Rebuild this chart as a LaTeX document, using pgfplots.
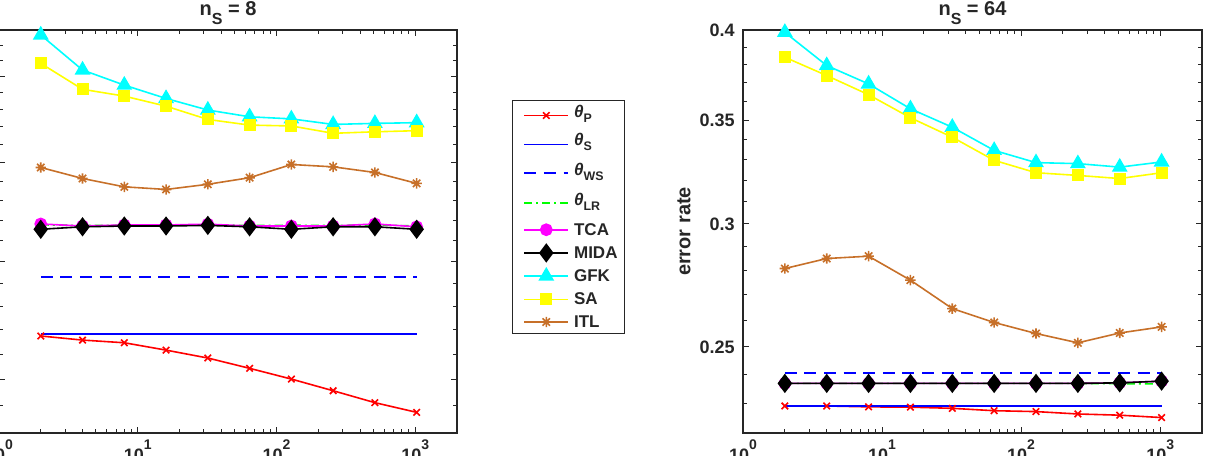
\documentclass[border=0pt]{standalone}
\usepackage{pgfplots}
\pgfplotsset{compat=1.18}
\usepackage{pgfplotstable}
\usepackage{fontspec}
\setmainfont{Liberation Sans}
\usetikzlibrary{plotmarks}

\definecolor{itlbrown}{rgb}{0.78,0.44,0.16}
\definecolor{axgray}{rgb}{0.15,0.15,0.15}
\definecolor{pcyan}{rgb}{0,1,1}
\definecolor{pmagenta}{rgb}{1,0,1}
\definecolor{pyellow}{rgb}{1,1,0}

% eight-armed asterisk (plus and cross overlaid)
\pgfdeclareplotmark{ast8}{%
  \pgfpathmoveto{\pgfqpoint{0pt}{\pgfplotmarksize}}%
  \pgfpathlineto{\pgfqpoint{0pt}{-\pgfplotmarksize}}%
  \pgfpathmoveto{\pgfqpoint{\pgfplotmarksize}{0pt}}%
  \pgfpathlineto{\pgfqpoint{-\pgfplotmarksize}{0pt}}%
  \pgfpathmoveto{\pgfqpoint{.707\pgfplotmarksize}{.707\pgfplotmarksize}}%
  \pgfpathlineto{\pgfqpoint{-.707\pgfplotmarksize}{-.707\pgfplotmarksize}}%
  \pgfpathmoveto{\pgfqpoint{-.707\pgfplotmarksize}{.707\pgfplotmarksize}}%
  \pgfpathlineto{\pgfqpoint{.707\pgfplotmarksize}{-.707\pgfplotmarksize}}%
  \pgfusepathqstroke}

\newcommand{\lsub}[1]{\raisebox{-2.5pt}{\fontsize{6.2}{6.2}\selectfont #1}}
\newcommand{\tsub}[1]{\raisebox{-4.8pt}{\fontsize{8}{8}\selectfont #1}}
\newcommand{\tsup}[1]{\raisebox{6pt}{\fontsize{7}{7}\selectfont #1}}
\newcommand{\rt}{\rule[-6.5pt]{0pt}{15pt}}
\newcommand{\rtb}{\rule[-6.5pt]{0pt}{13.8pt}}
\newcommand{\rn}{\rule[-3.1pt]{0pt}{11.6pt}}
\newcommand{\rl}{\rule[-2.6pt]{0pt}{11.1pt}}
\newcommand{\tkfont}{\fontsize{9}{10}\selectfont\bfseries}
\newcommand{\lgfont}{\fontsize{8.5}{10}\selectfont\bfseries}
\newcommand{\ttfont}{\fontsize{10}{12}\selectfont\bfseries}

% error rates, n_S = 8
\pgfplotstableread{
n    P      S      WS     LR     TCA    MIDA   GFK    SA     ITL
2    0.2674 0.2681 0.2930 0.3178 0.3182 0.3156 0.4267 0.4083 0.3474
4    0.2657 0.2681 0.2930 0.3174 0.3172 0.3168 0.4041 0.3922 0.3415
8    0.2646 0.2681 0.2930 0.3176 0.3177 0.3172 0.3948 0.3881 0.3371
16   0.2616 0.2681 0.2930 0.3176 0.3177 0.3172 0.3867 0.3821 0.3357
32   0.2584 0.2681 0.2930 0.3178 0.3181 0.3175 0.3798 0.3743 0.3384
64   0.2543 0.2681 0.2930 0.3174 0.3172 0.3168 0.3758 0.3710 0.3419
128  0.2501 0.2681 0.2930 0.3176 0.3172 0.3156 0.3746 0.3705 0.3490
256  0.2456 0.2681 0.2930 0.3174 0.3172 0.3168 0.3714 0.3663 0.3477
512  0.2411 0.2681 0.2930 0.3178 0.3182 0.3168 0.3720 0.3672 0.3447
1024 0.2375 0.2681 0.2930 0.3172 0.3168 0.3156 0.3724 0.3678 0.3389
}\tabA

% error rates, n_S = 64
\pgfplotstableread{
n    P      S      WS     LR     TCA    MIDA   GFK    SA     ITL
2    0.2290 0.2290 0.2405 0.2368 0.2368 0.2368 0.3987 0.3842 0.2808
4    0.2290 0.2290 0.2405 0.2368 0.2368 0.2368 0.3795 0.3739 0.2850
8    0.2287 0.2290 0.2405 0.2368 0.2368 0.2368 0.3693 0.3634 0.2860
16   0.2286 0.2290 0.2405 0.2368 0.2368 0.2368 0.3559 0.3512 0.2760
32   0.2282 0.2290 0.2405 0.2368 0.2368 0.2368 0.3463 0.3412 0.2646
64   0.2274 0.2290 0.2405 0.2368 0.2368 0.2368 0.3346 0.3297 0.2592
128  0.2271 0.2290 0.2405 0.2368 0.2368 0.2368 0.3286 0.3237 0.2550
256  0.2263 0.2290 0.2405 0.2368 0.2368 0.2368 0.3281 0.3224 0.2515
512  0.2259 0.2290 0.2405 0.2367 0.2370 0.2370 0.3264 0.3209 0.2552
1024 0.2251 0.2290 0.2405 0.2366 0.2376 0.2376 0.3289 0.3237 0.2575
}\tabB

\tikzset{
  sP/.style={color=red, line width=0.8pt, mark=x, mark size=2.3pt},
  sS/.style={color=blue, line width=0.8pt},
  sWS/.style={color=blue, line width=0.8pt, dash pattern=on 6pt off 3.8pt},
  sLR/.style={color=green, line width=0.8pt, dash pattern=on 4pt off 2pt on 1pt off 2pt},
  sTCA/.style={color=pmagenta, line width=0.8pt, mark=*, mark size=2.8pt, mark options={fill=pmagenta}},
  sMIDA/.style={color=black, line width=0.8pt, mark=diamond*, mark size=4.2pt, mark options={fill=black}},
  sGFK/.style={color=pcyan, line width=0.8pt, mark=triangle*, mark size=3.8pt, mark options={fill=pcyan}},
  sSA/.style={color=pyellow, line width=0.8pt, mark=square*, mark size=2.6pt, mark options={fill=pyellow}},
  sITL/.style={color=itlbrown, line width=0.8pt, mark=ast8, mark size=2.6pt},
}

\begin{document}
\begin{tikzpicture}
\begin{axis}[scale only axis, width=229pt, height=201.5pt,
  at={(-0.5pt,-216.5pt)}, anchor=south west,
  xmode=log, ymode=log, xmin=1, xmax=2000, ymin=0.23, ymax=0.43,
  xtick={1,10,100,1000},
  xticklabels={10\tsup{0},10\tsup{1},10\tsup{2},10\tsup{3}},
  minor xtick={2,3,4,5,6,7,8,9,20,30,40,50,60,70,80,90,200,300,400,500,600,700,800,900},
  ytick={0.25,0.3,0.35,0.4},
  yticklabels={0.25,0.3,0.35,0.4},
  minor ytick={0.24,0.26,0.27,0.28,0.29,0.31,0.32,0.33,0.34,0.36,0.37,0.38,0.39,0.41,0.42},
  tick align=inside, major tick length=3pt, minor tick length=1.8pt,
  axis line style={axgray, line width=0.7pt},
  every tick/.style={axgray, line width=0.5pt},
  tick label style={font=\tkfont, text=axgray},
  xticklabel style={inner sep=0pt, yshift=-3pt},
  yticklabel style={inner sep=0pt, xshift=-4pt},
  ylabel={error rate},
  ylabel style={at={(axis description cs:-0.1285,0.5)}, anchor=center,
    font=\fontsize{10}{12}\selectfont\bfseries, text=axgray},
  legend image code/.code={%
    \path (0pt,0pt);
    \draw[mark repeat=2,mark phase=2,#1] plot coordinates {(2pt,0pt) (13pt,0pt) (24pt,0pt)};},
  legend style={at={(1.1201,0.8263)}, anchor=north west, draw=axgray, line width=0.5pt,
    font=\lgfont, text=axgray,
    inner xsep=3.5pt, inner ysep=0pt, row sep=0pt,
    nodes={inner sep=0pt, text depth=}},
  legend cell align=left]
\addplot[sP] table[x=n,y=P] {\tabA};
\addlegendentry{\rt\hspace{2.5pt}{\itshape θ}\lsub{P}}
\addplot[sS] table[x=n,y=S] {\tabA};
\addlegendentry{\rtb\hspace{2.5pt}{\itshape θ}\lsub{S}}
\addplot[sWS] table[x=n,y=WS] {\tabA};
\addlegendentry{\rt\hspace{2.5pt}{\itshape θ}\lsub{WS}}
\addplot[sLR] table[x=n,y=LR] {\tabA};
\addlegendentry{\rt\hspace{2.5pt}{\itshape θ}\lsub{LR}}
\addplot[sTCA] table[x=n,y=TCA] {\tabA};
\addlegendentry{\rn\hspace{2.5pt}TCA}
\addplot[sMIDA] table[x=n,y=MIDA] {\tabA};
\addlegendentry{\rn\hspace{2.5pt}MIDA}
\addplot[sGFK] table[x=n,y=GFK] {\tabA};
\addlegendentry{\rn\hspace{2.5pt}GFK}
\addplot[sSA] table[x=n,y=SA] {\tabA};
\addlegendentry{\rn\hspace{2.5pt}SA}
\addplot[sITL] table[x=n,y=ITL] {\tabA};
\addlegendentry{\rl\hspace{2.5pt}ITL}
\end{axis}

\begin{axis}[scale only axis, width=229.5pt, height=201.5pt,
  at={(371.5pt,-216.5pt)}, anchor=south west,
  xmode=log, ymode=log, xmin=1, xmax=2000, ymin=0.22, ymax=0.4,
  xtick={1,10,100,1000},
  xticklabels={10\tsup{0},10\tsup{1},10\tsup{2},10\tsup{3}},
  minor xtick={2,3,4,5,6,7,8,9,20,30,40,50,60,70,80,90,200,300,400,500,600,700,800,900},
  ytick={0.25,0.3,0.35,0.4},
  yticklabels={0.25,0.3,0.35,0.4},
  minor ytick={0.23,0.24,0.26,0.27,0.28,0.29,0.31,0.32,0.33,0.34,0.36,0.37,0.38,0.39},
  tick align=inside, major tick length=3pt, minor tick length=1.8pt,
  axis line style={axgray, line width=0.7pt},
  every tick/.style={axgray, line width=0.5pt},
  tick label style={font=\tkfont, text=axgray},
  xticklabel style={inner sep=0pt, yshift=-3pt},
  yticklabel style={inner sep=0pt, xshift=-4pt},
  ylabel={error rate},
  ylabel style={at={(axis description cs:-0.1285,0.5)}, anchor=center,
    font=\fontsize{10}{12}\selectfont\bfseries, text=axgray}]
\addplot[sP] table[x=n,y=P] {\tabB};
\addplot[sS] table[x=n,y=S] {\tabB};
\addplot[sWS] table[x=n,y=WS] {\tabB};
\addplot[sLR] table[x=n,y=LR] {\tabB};
\addplot[sTCA] table[x=n,y=TCA] {\tabB};
\addplot[sMIDA] table[x=n,y=MIDA] {\tabB};
\addplot[sGFK] table[x=n,y=GFK] {\tabB};
\addplot[sSA] table[x=n,y=SA] {\tabB};
\addplot[sITL] table[x=n,y=ITL] {\tabB};
\end{axis}

% panel titles
\node[anchor=base, inner sep=0pt, font=\ttfont, text=axgray] at (114pt,-7.5pt) {n\tsub{S} = 8};
\node[anchor=base, inner sep=0pt, font=\ttfont, text=axgray] at (486.25pt,-7.5pt) {n\tsub{S} = 64};

\pgfresetboundingbox
\path[use as bounding box] (0pt,0pt) rectangle (604.5pt,-227.5pt);
\end{tikzpicture}
\end{document}
